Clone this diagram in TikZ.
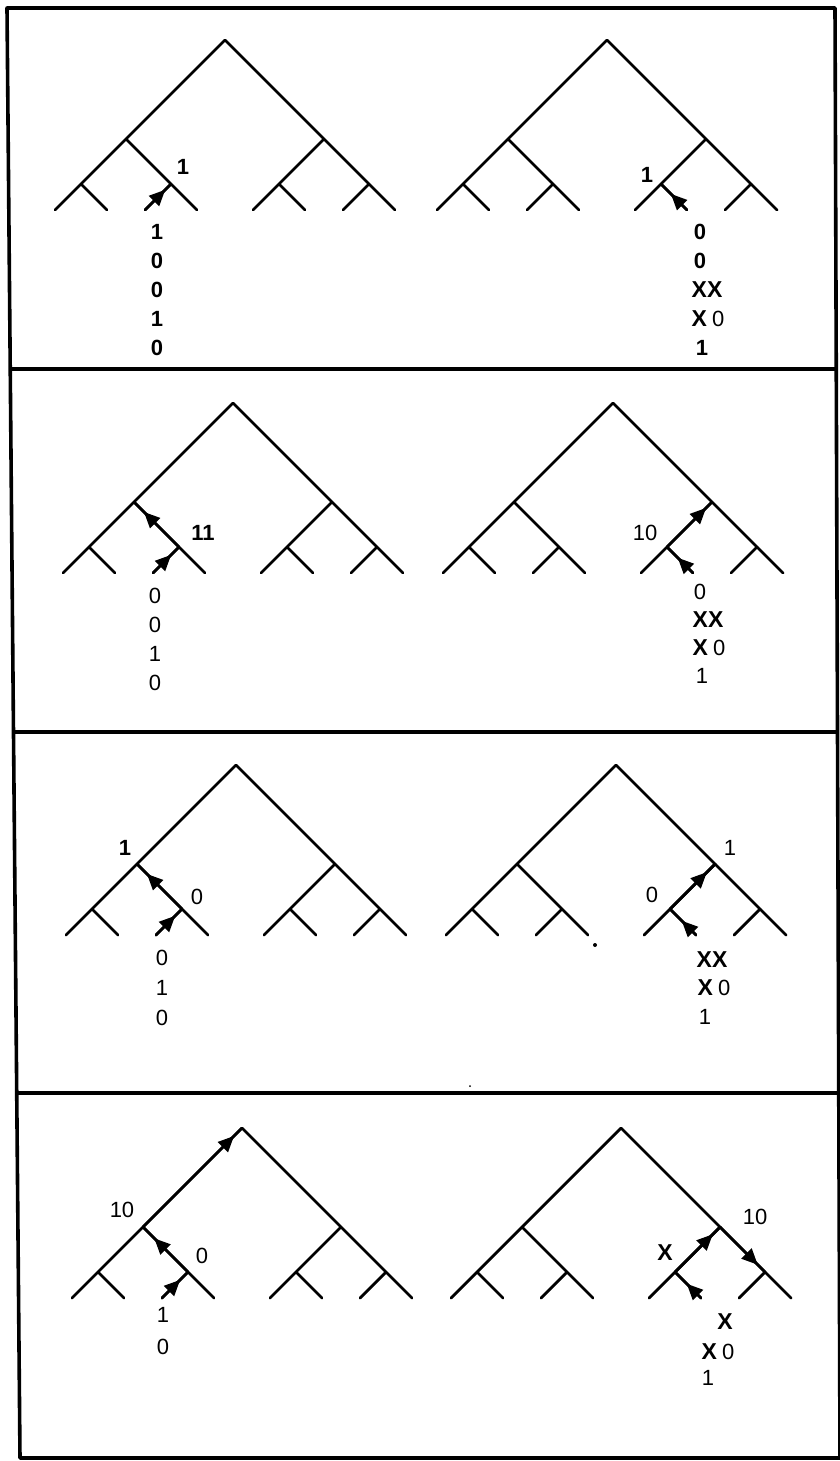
\documentclass[tikz,border=0pt]{standalone}
\usepackage{fontspec}
\setmainfont{Liberation Sans}
\usetikzlibrary{arrows.meta,decorations.markings}

\tikzset{
  treeline/.style={line width=1.4pt, line cap=round, line join=round},
  frameline/.style={line width=1.8pt, line cap=round, line join=round},
  arrowat/.style={treeline, postaction={decorate},
    decoration={markings, mark=at position #1 with {\arrow{Triangle[length=8pt,width=7pt]}}}},
  lbl/.style={inner sep=0pt, font=\fontsize{11}{12}\selectfont},
  blbl/.style={inner sep=0pt, font=\fontsize{11}{12}\selectfont\bfseries},
  xlbl/.style={inner sep=0pt, font=\fontsize{11.5}{12}\selectfont\bfseries},
}

\newcommand\drawtree[3]{%
  \begin{scope}[shift={(#2,#3)}]
    \coordinate (#1A) at (0,0);
    \coordinate (#1L) at (-99,99);
    \coordinate (#1R) at (99,99);
    \coordinate (#1LL) at (-144,144);
    \coordinate (#1LR) at (-54,144);
    \coordinate (#1RL) at (54,144);
    \coordinate (#1RR) at (144,144);
    \coordinate (#1LLL) at (-170,170);
    \coordinate (#1LLR) at (-118,170);
    \coordinate (#1LRL) at (-80,170);
    \coordinate (#1LRR) at (-28,170);
    \coordinate (#1RLL) at (28,170);
    \coordinate (#1RLR) at (80,170);
    \coordinate (#1RRL) at (118,170);
    \coordinate (#1RRR) at (170,170);
  \end{scope}
  \draw[treeline] (#1LLL) -- (#1LL) -- (#1L) -- (#1A) -- (#1R) -- (#1RR) -- (#1RRR);
  \draw[treeline] (#1LL) -- (#1LLR);
  \draw[treeline] (#1L) -- (#1LR) -- (#1LRR);
  \draw[treeline] (#1LR) -- (#1LRL);
  \draw[treeline] (#1R) -- (#1RL) -- (#1RLL);
  \draw[treeline] (#1RL) -- (#1RLR);
  \draw[treeline] (#1RR) -- (#1RRL);
}

\begin{document}
\begin{tikzpicture}[x=0.5pt, y=-0.5pt]
\useasboundingbox (0,0) rectangle (840,1461);

% frame
\coordinate (TL) at (7,8);
\coordinate (TR) at (835,8);
\coordinate (BR) at (840,1458);
\coordinate (BL) at (20,1458);
\draw[frameline] (TL) -- (TR) -- (BR) -- (BL) -- cycle;
\coordinate (D1l) at (11,369);  \coordinate (D1r) at (836,369);
\coordinate (D2l) at (14,732);  \coordinate (D2r) at (837,732);
\coordinate (D3l) at (18,1093); \coordinate (D3r) at (838,1093);
\draw[frameline] (D1l) -- (D1r);
\draw[frameline] (D2l) -- (D2r);
\draw[frameline] (D3l) -- (D3r);

% trees
\drawtree{a}{225}{40}
\drawtree{b}{607}{40}
\drawtree{c}{233}{403}
\drawtree{d}{613}{403}
\drawtree{e}{236}{765}
\drawtree{f}{616}{765}
\drawtree{g}{242}{1128}
\drawtree{h}{621}{1128}

% arrows
\draw[arrowat=0.78] (aLRL) -- (aLR);
\draw[arrowat=0.62] (bRLR) -- (bRL);
\draw[arrowat=0.70] (cLRL) -- (cLR);
\draw[arrowat=0.78] (cLR) -- (cL);
\draw[arrowat=0.87] (dRL) -- (dR);
\draw[arrowat=0.59] (dRLR) -- (dRL);
\draw[arrowat=0.78] (eLR) -- (eL);
\draw[arrowat=0.74] (eLRL) -- (eLR);
\draw[arrowat=0.82] (fRL) -- (fR);
\draw[arrowat=0.55] (fRLR) -- (fRL);
\draw[arrowat=0.92] (gL) -- (gA);
\draw[arrowat=0.75] (gLR) -- (gL);
\draw[arrowat=0.70] (gLRL) -- (gLR);
\draw[arrowat=0.84] (hRL) -- (hR);
\draw[arrowat=0.84] (hR) -- (hRR);
\draw[arrowat=0.55] (hRLR) -- (hRL);

% panel 1 labels
\node[blbl] (a1) at (183,167) {1};
\node[blbl] (ac1) at (157,232) {1};
\node[blbl] (ac2) at (157,261) {0};
\node[blbl] (ac3) at (157,290) {0};
\node[blbl] (ac4) at (157,319) {1};
\node[blbl] (ac5) at (157,348) {0};
\node[blbl] (b1) at (647,175) {1};
\node[blbl] (bc1) at (700,232) {0};
\node[blbl] (bc2) at (700,261) {0};
\node[xlbl] (bc3) at (707,290) {XX};
\node[lbl] (bc4) at (708,319) {\textbf{\fontsize{11.5}{12}\selectfont X}\hspace{2.5pt}0};
\node[blbl] (bc5) at (702,348) {1};

% panel 2 labels
\node[blbl] (c1) at (203,533) {11};
\node[lbl] (cc1) at (155,596) {0};
\node[lbl] (cc2) at (155,625) {0};
\node[lbl] (cc3) at (155,654) {1};
\node[lbl] (cc4) at (155,683) {0};
\node[lbl] (d1) at (645,533) {10};
\node[lbl] (dc1) at (700,592) {0};
\node[xlbl] (dc2) at (708,620) {XX};
\node[lbl] (dc3) at (709,648) {\textbf{\fontsize{11.5}{12}\selectfont X}\hspace{2.5pt}0};
\node[lbl] (dc4) at (702,676) {1};

% panel 3 labels
\node[blbl] (e1) at (125,848) {1};
\node[lbl] (e2) at (197,897) {0};
\node[lbl] (ec1) at (162,958) {0};
\node[lbl] (ec2) at (162,988) {1};
\node[lbl] (ec3) at (162,1018) {0};
\node[lbl] (f1) at (730,848) {1};
\node[lbl] (f2) at (652,895) {0};
\node[xlbl] (fc1) at (712,960) {XX};
\node[lbl] (fc2) at (714,988) {\textbf{\fontsize{11.5}{12}\selectfont X}\hspace{2.5pt}0};
\node[lbl] (fc3) at (705,1017) {1};
\fill (595,945) circle (2);

% panel 4 labels
\node[lbl] (g1) at (122,1210) {10};
\node[lbl] (g2) at (202,1256) {0};
\node[lbl] (gc1) at (163,1315) {1};
\node[lbl] (gc2) at (163,1347) {0};
\node[lbl] (h1) at (755,1217) {10};
\node[xlbl] (h2) at (665,1253) {X};
\node[xlbl] (hc1) at (725,1322) {X};
\node[lbl] (hc2) at (718,1352) {\textbf{\fontsize{11.5}{12}\selectfont X}\hspace{2.5pt}0};
\node[lbl] (hc3) at (708,1378) {1};
\fill (470,1086) circle (1);
\end{tikzpicture}
\end{document}
